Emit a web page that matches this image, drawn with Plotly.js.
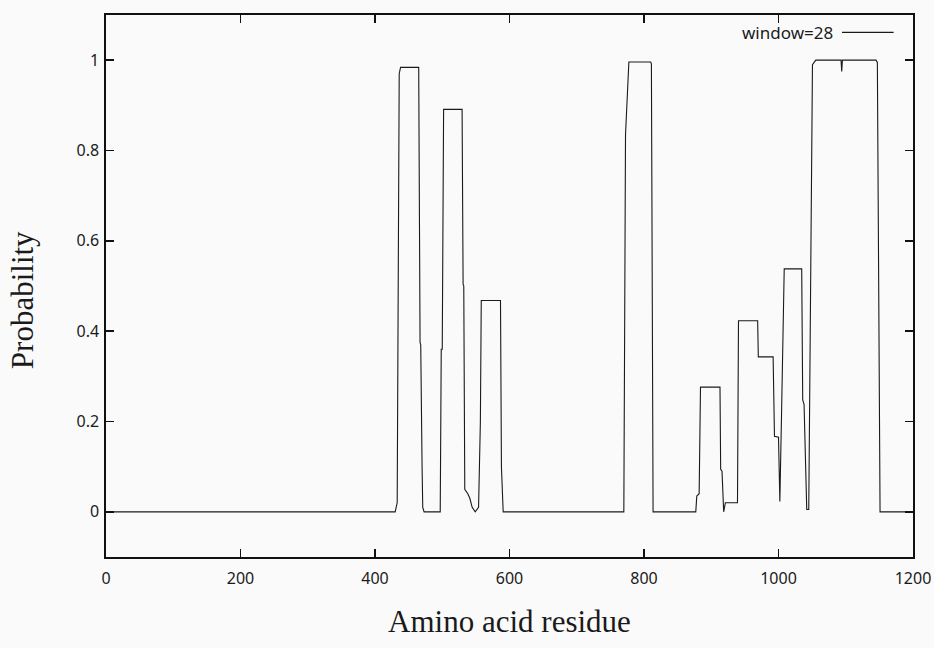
<!DOCTYPE html>
<html>
<head>
<meta charset="utf-8">
<script src="https://cdn.plot.ly/plotly-3.0.1.min.js"></script>
<style>
html,body{margin:0;padding:0;background:#fafafa;}
#chart{width:934px;height:648px;}
</style>
</head>
<body>
<div id="chart"></div>
<script>
// Residue positions and probabilities (window=28)
const residue = [
  0, 430, 433, 436, 438, 465, 467, 468, 470, 471, 473,
  497, 498.5, 500, 502, 529.5, 531, 532, 533.5, 536, 538, 541, 544.5, 549, 554, 556.7, 558, 586.6, 588, 590.6,
  770, 772.5, 775, 777.5, 810, 811, 813.5,
  877, 878.5, 882, 884, 913, 914, 916, 918.5, 921, 939, 940.5, 969, 970, 992, 993, 994, 1000, 1002, 1004.5, 1008.5,
  1034.5, 1036, 1038, 1042, 1045, 1048, 1050.5, 1055.5, 1093, 1094, 1095, 1145, 1147, 1151, 1200
];
const probability = [
  0, 0, 0.02, 0.97, 0.984, 0.984, 0.375, 0.37, 0.1, 0.01, 0,
  0, 0.36, 0.36, 0.891, 0.891, 0.504, 0.5, 0.05, 0.045, 0.04, 0.03, 0.01, 0, 0.01, 0.2, 0.468, 0.468, 0.1, 0,
  0, 0.835, 0.938, 0.996, 0.996, 0.992, 0,
  0, 0.035, 0.04, 0.276, 0.276, 0.094, 0.09, 0, 0.02, 0.02, 0.423, 0.423, 0.343, 0.343, 0.191, 0.167, 0.165, 0.023, 0.215, 0.538,
  0.538, 0.248, 0.238, 0.005, 0.005, 0.562, 0.99, 1.0, 1.0, 0.975, 1.0, 1.0, 0.995, 0, 0
];
const xTicks = [0, 200, 400, 600, 800, 1000, 1200];
const yTicks = [0, 0.2, 0.4, 0.6, 0.8, 1];
const yTickText = ['0', '0.2', '0.4', '0.6', '0.8', '1'];
const seriesName = 'window=28';
const xTitle = 'Amino acid residue';
const yTitle = 'Probability';

const trace = {
  x: residue, y: probability, type: 'scatter', mode: 'lines', name: seriesName,
  line: {color: '#1a1a1a', width: 1.1}, showlegend: false
};

const axisCommon = {
  showline: true, mirror: 'ticks', linecolor: '#111', linewidth: 1.6,
  ticks: 'inside', ticklen: 8, tickwidth: 1.6, tickcolor: '#111',
  showgrid: false, zeroline: false,
  tickfont: {family: 'Noto Sans, Open Sans, sans-serif', size: 16, color: '#1a1a1a'}
};

const serif = 'Liberation Serif, Times New Roman, serif';

const layout = {
  width: 934, height: 648,
  paper_bgcolor: '#fafafa', plot_bgcolor: '#fafafa',
  margin: {l: 106, r: 21, t: 15, b: 91},
  xaxis: Object.assign({}, axisCommon, {
    range: [0, 1200], tickvals: xTicks, ticktext: xTicks.map(String), ticklabelstandoff: 6,
    title: {text: xTitle, font: {family: serif, size: 31, color: '#1a1a1a'}, standoff: 22}
  }),
  yaxis: Object.assign({}, axisCommon, {
    range: [-0.1, 1.1], tickvals: yTicks, ticktext: yTickText, ticklabelstandoff: 2
  }),
  annotations: [{
    xref: 'paper', yref: 'paper', x: 0.903, y: 0.968, xanchor: 'right', yanchor: 'middle',
    text: seriesName, showarrow: false,
    font: {family: 'Noto Sans, Open Sans, sans-serif', size: 17, color: '#1a1a1a'}
  }, {
    xref: 'paper', yref: 'paper', x: -0.104, y: 0.474, xanchor: 'center', yanchor: 'middle',
    text: yTitle, showarrow: false, textangle: -90,
    font: {family: serif, size: 31, color: '#1a1a1a'}
  }],
  shapes: [{
    type: 'line', xref: 'paper', yref: 'paper', x0: 0.912, x1: 0.976, y0: 0.968, y1: 0.968,
    line: {color: '#1a1a1a', width: 1.1}
  }]
};

Plotly.newPlot('chart', [trace], layout, {displayModeBar: false, staticPlot: true});
</script>
</body>
</html>
